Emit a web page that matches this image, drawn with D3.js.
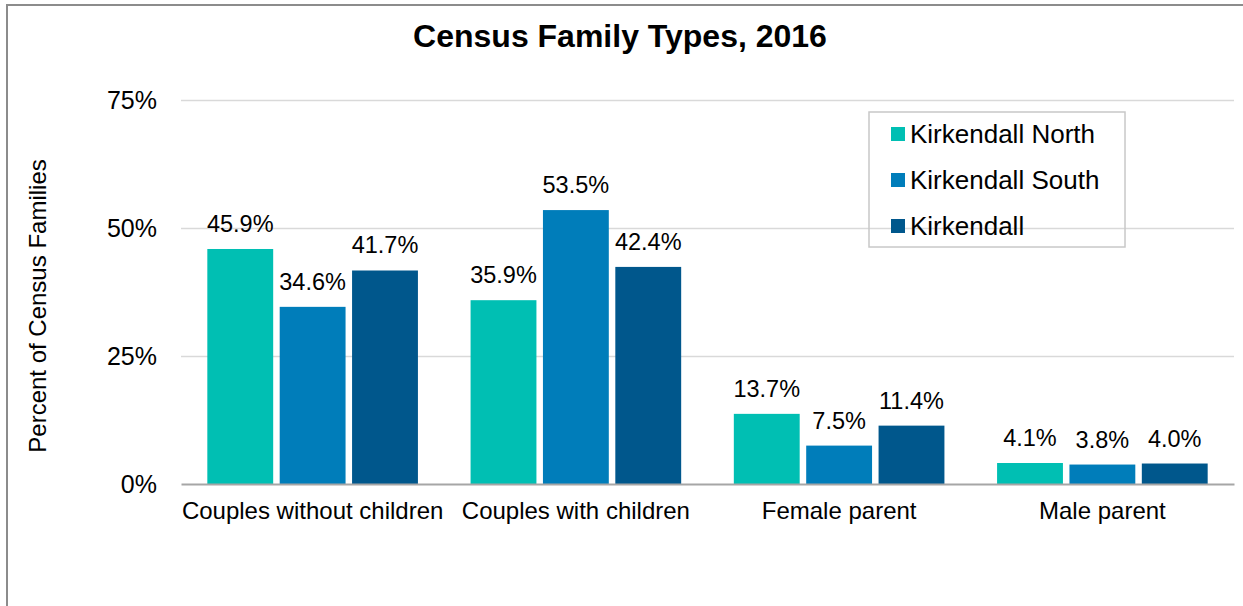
<!DOCTYPE html>
<html>
<head>
<meta charset="utf-8">
<script src="https://cdn.jsdelivr.net/npm/d3@7"></script>
<style>
  body { margin: 0; background: #fff; }
  svg { display: block; font-family: "Liberation Sans", Arial, sans-serif; }
</style>
</head>
<body>
<div id="chart"></div>
<script>
const categories = ["Couples without children", "Couples with children", "Female parent", "Male parent"];
const seriesNames = ["Kirkendall North", "Kirkendall South", "Kirkendall"];
const north = [45.9, 35.9, 13.7, 4.1];
const south = [34.6, 53.5, 7.5, 3.8];
const kirkendall = [41.7, 42.4, 11.4, 4.0];
const yTicks = [0, 25, 50, 75];
const colors = ["#00bfb3", "#007dba", "#00578c"];

const width = 1243, height = 606;
const margin = {top: 100, right: 9, bottom: 122, left: 181};

const svg = d3.select("#chart").append("svg")
  .attr("width", width)
  .attr("height", height);

// outer frame
svg.append("rect")
  .attr("x", 7).attr("y", 5)
  .attr("width", width + 20).attr("height", height + 20)
  .attr("fill", "none")
  .attr("stroke", "#8c8c8c")
  .attr("stroke-width", 2);

const data = categories.map((c, i) => ({
  category: c,
  values: [north[i], south[i], kirkendall[i]].map((v, j) => ({series: seriesNames[j], value: v, idx: j}))
}));

const x0 = d3.scaleBand()
  .domain(categories)
  .range([margin.left, width - margin.right])
  .paddingInner(0.2)
  .paddingOuter(0.1);

const x1 = d3.scaleBand()
  .domain(seriesNames)
  .range([0, x0.bandwidth()])
  .paddingInner(0.09);

const y = d3.scaleLinear()
  .domain([0, 75])
  .range([height - margin.bottom, margin.top]);

// gridlines
svg.append("g")
  .selectAll("line")
  .data(yTicks.filter(d => d > 0))
  .join("line")
    .attr("x1", margin.left)
    .attr("x2", width - margin.right)
    .attr("y1", d => y(d) + 0.5)
    .attr("y2", d => y(d) + 0.5)
    .attr("stroke", "#d9d9d9")
    .attr("stroke-width", 1.5);

// y axis labels
const yAxis = g => g
  .attr("transform", `translate(${margin.left},0)`)
  .call(d3.axisLeft(y).tickValues(yTicks).tickFormat(d => d + "%").tickSize(0).tickPadding(24))
  .call(g => g.select(".domain").remove())
  .call(g => g.selectAll("text")
    .attr("font-size", 25)
    .attr("font-family", "Liberation Sans, Arial, sans-serif")
    .attr("fill", "#000"));
svg.append("g").call(yAxis);

// bars
const groups = svg.append("g")
  .selectAll("g")
  .data(data)
  .join("g")
    .attr("transform", d => `translate(${x0(d.category)},0)`);

groups.selectAll("rect")
  .data(d => d.values)
  .join("rect")
    .attr("x", d => x1(d.series))
    .attr("y", d => y(d.value))
    .attr("width", x1.bandwidth())
    .attr("height", d => y(0) - y(d.value))
    .attr("fill", d => colors[d.idx]);

groups.selectAll("text")
  .data(d => d.values)
  .join("text")
    .attr("x", d => x1(d.series) + x1.bandwidth() / 2)
    .attr("y", d => y(d.value) - 17)
    .attr("text-anchor", "middle")
    .attr("font-size", 23.5)
    .attr("fill", "#000")
    .text(d => d.value.toFixed(1) + "%");

// x axis
const xAxis = g => g
  .attr("transform", `translate(0,${y(0)})`)
  .call(d3.axisBottom(x0).tickSize(0).tickPadding(18).tickSizeOuter(0))
  .call(g => g.select(".domain").attr("stroke", "#a6a6a6").attr("stroke-width", 2))
  .call(g => g.selectAll("text")
    .attr("font-size", 24)
    .attr("font-family", "Liberation Sans, Arial, sans-serif")
    .attr("fill", "#000"));
svg.append("g").call(xAxis);

// title
svg.append("text")
  .attr("x", 620)
  .attr("y", 47)
  .attr("text-anchor", "middle")
  .attr("font-size", 32)
  .attr("font-weight", "bold")
  .text("Census Family Types, 2016");

// y axis title
svg.append("text")
  .attr("transform", `translate(46,${(margin.top + y(0)) / 2 + 14}) rotate(-90)`)
  .attr("text-anchor", "middle")
  .attr("font-size", 24)
  .text("Percent of Census Families");

// legend
const legend = svg.append("g").attr("transform", "translate(869,112)");
legend.append("rect")
  .attr("width", 256).attr("height", 135)
  .attr("fill", "none")
  .attr("stroke", "#c8c8c8")
  .attr("stroke-width", 1.5);
const items = legend.selectAll("g")
  .data(seriesNames)
  .join("g")
    .attr("transform", (d, i) => `translate(22,${22 + i * 46})`);
items.append("rect")
  .attr("x", 0).attr("y", -7)
  .attr("width", 14).attr("height", 14)
  .attr("fill", (d, i) => colors[i]);
items.append("text")
  .attr("x", 19)
  .attr("y", 9)
  .attr("font-size", 26)
  .text(d => d);
</script>
</body>
</html>
